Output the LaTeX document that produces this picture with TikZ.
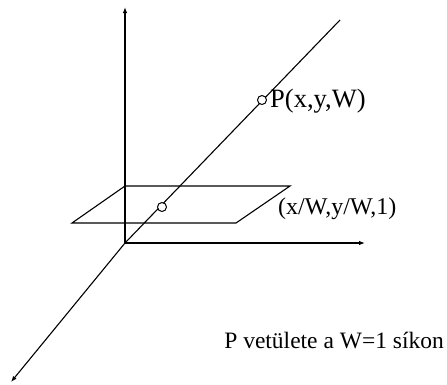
\documentclass[tikz,border=0pt]{standalone}
\usepackage{fontspec}
\setmainfont{Liberation Serif}
\usetikzlibrary{arrows.meta}
\begin{document}
\begin{tikzpicture}[x=1pt,y=-1pt,
  axis/.style={line width=1.1pt,-{Latex[length=6pt,width=4.5pt]}},
  ln/.style={line width=1.1pt},
  pt/.style={circle,draw,fill=white,line width=1pt,minimum size=9pt,inner sep=0pt},
  lbl/.style={inner sep=0pt}]
\useasboundingbox (0,0) rectangle (447,384);
\coordinate (O) at (125,243);
\coordinate (ytip) at (125,7);
\coordinate (xtip) at (365,243);
\coordinate (ztip) at (11,382);
\coordinate (dend) at (340,20);
\coordinate (a) at (125,186);
\coordinate (b) at (290,186);
\coordinate (c) at (236,223);
\coordinate (d) at (72,223);
\draw[axis] (O) -- (ytip);
\draw[axis] (O) -- (xtip);
\draw[axis] (O) -- (ztip);
\draw[ln] (a) -- (b) -- (c) -- (d) -- cycle;
\draw[ln] (O) -- (dend);
\node[pt] (q) at (162,207) {};
\node[pt] (p) at (262,100) {};
\node[lbl,anchor=west,font=\fontsize{26.5}{30}\selectfont] (pl) at (270,101) {P(x,y,W)};
\node[lbl,anchor=west,font=\fontsize{24}{28}\selectfont] (ql) at (278,209) {(x/W,y/W,1)};
\node[lbl,anchor=east,font=\fontsize{23.5}{27}\selectfont] (cap) at (444,340) {P vetülete a W=1 síkon};
\end{tikzpicture}
\end{document}
